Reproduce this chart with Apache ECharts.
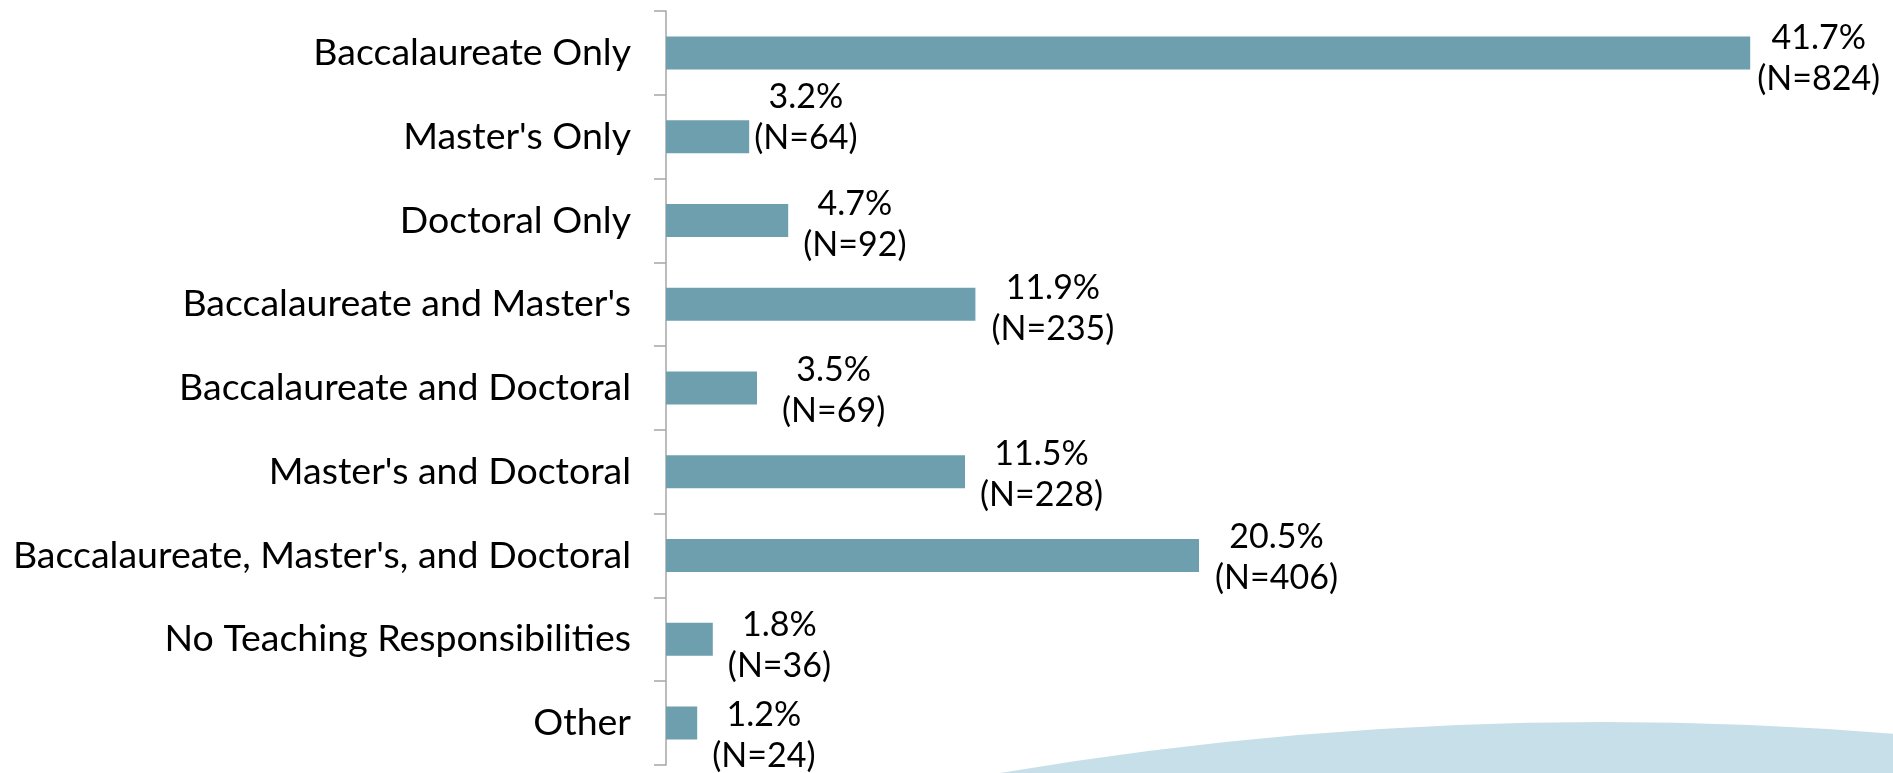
<!DOCTYPE html>
<html>
<head>
<meta charset="utf-8">
<script src="https://cdn.jsdelivr.net/npm/echarts@6/dist/echarts.min.js"></script>
<style>
  html, body { margin: 0; padding: 0; background: #fff; }
  #main { width: 1893px; height: 773px; }
</style>
</head>
<body>
<div id="main"></div>
<script>
var categories = [
  'Baccalaureate Only',
  "Master's Only",
  'Doctoral Only',
  "Baccalaureate and Master's",
  'Baccalaureate and Doctoral',
  "Master's and Doctoral",
  "Baccalaureate, Master's, and Doctoral",
  'No Teaching Responsibilities',
  'Other'
];
var percents = [41.7, 3.2, 4.7, 11.9, 3.5, 11.5, 20.5, 1.8, 1.2];
var counts = [824, 64, 92, 235, 69, 228, 406, 36, 24];

// hand-placed label nudges from the original (px, style only)
var labelNudge = [[-8, 6], [-10, -19], [0, 4], [1, 4], [10, 3], [0, 3], [1, 2], [0, 6], [0, 12]];

var chart = echarts.init(document.getElementById('main'));

var barData = percents.map(function (v, i) {
  return { value: v, label: { offset: labelNudge[i] } };
});

var option = {
  backgroundColor: '#fff',
  animation: false,
  textStyle: { fontFamily: 'Lato' },
  graphic: [
    {
      // soft blue swoosh in the bottom corner
      type: 'bezierCurve',
      z: -10,
      shape: { x1: 1000, y1: 773, x2: 2206, y2: 773, cpx1: 1603, cpy1: 671 },
      style: { fill: '#c7dfe8', stroke: null }
    }
  ],
  grid: { left: 666, right: 57, top: 11, bottom: 8 },
  xAxis: {
    type: 'value',
    min: 0,
    max: 45,
    show: false,
    splitLine: { show: false }
  },
  yAxis: {
    type: 'category',
    inverse: true,
    data: categories,
    axisLine: { lineStyle: { color: '#a6a6a6', width: 1.5 } },
    axisTick: {
      show: true,
      interval: 0,
      alignWithLabel: false,
      inside: false,
      length: 12,
      lineStyle: { color: '#a6a6a6', width: 1.5 }
    },
    axisLabel: { color: '#000', fontSize: 37.5, fontFamily: 'Lato', margin: 35 }
  },
  series: [
    {
      type: 'bar',
      data: barData,
      barWidth: 33,
      itemStyle: { color: '#6e9fae' },
      label: {
        show: true,
        position: 'right',
        distance: 15,
        formatter: function (p) {
          return '{a|' + p.value.toFixed(1) + '%}\n{a|(N=' + counts[p.dataIndex] + ')}';
        },
        rich: {
          a: { fontSize: 34, fontFamily: 'Lato', color: '#000', lineHeight: 41, align: 'center' }
        }
      }
    }
  ]
};

chart.setOption(option);
</script>
</body>
</html>
